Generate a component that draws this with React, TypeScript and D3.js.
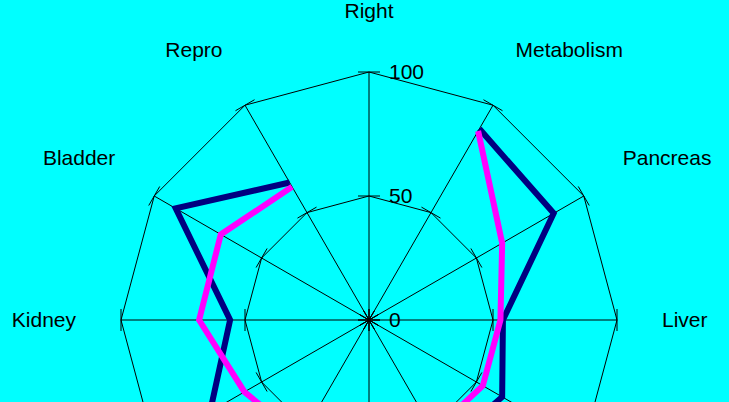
import React from 'react';
import * as d3 from 'd3';

// axes go clockwise from the top
const axes = ['Right', 'Metabolism', 'Pancreas', 'Liver', 'Heart', 'Lung', 'Left', 'Brain', 'Bone', 'Kidney', 'Bladder', 'Repro'];
const seriesNavy = [null, 89, 86, 54, 62, 60, 58, 66, 74, 56, 90, 64];
const seriesMagenta = [null, 88, 62, 53, 53, 52, 60, 55, 58, 68.5, 69, 62];
const ringValues = [0, 50, 100];
const gridRings = [50, 100];

const width = 729;
const height = 402;
const cx = 369;
const cy = 320;
const font = 'Liberation Sans, Arial, Helvetica, sans-serif';
const fontSize = 21;

const App = () => {
  const r = d3.scaleLinear().domain([0, 100]).range([0, 248]);
  const step = (2 * Math.PI) / axes.length;
  const a = (i) => i * step;
  const pt = (i, v) => [Math.sin(a(i)) * r(v), -Math.cos(a(i)) * r(v)];

  const ringPath = (v) => {
    const pts = axes.map((_, i) => pt(i, v));
    return d3.line()(pts.concat([pts[0]]));
  };

  const radial = d3.lineRadial()
    .angle((d) => a(d.i))
    .radius((d) => r(d.v))
    .defined((d) => d.v != null);

  const toPts = (arr) => arr.map((v, i) => ({ i, v }));

  const labelR = 293;

  const labels = axes.map((name, i) => {
    const s = Math.sin(a(i));
    const c = Math.cos(a(i));
    const x = s * labelR;
    let y = -c * labelR;
    const anchor = Math.abs(s) < 0.01 ? 'middle' : s > 0 ? 'start' : 'end';
    let dy = '0.35em';
    if (c > 0.01) { y -= 9; dy = '0em'; }
    else if (c < -0.01) { y += 9; dy = '0.75em'; }
    return { name, x, y, dy, anchor };
  }).filter((l) => l.y + cy < height - 10); // lower labels fall below the page

  return (
    <svg width={width} height={height} style={{ position: 'absolute', left: 0, top: 0, background: '#00ffff' }}>
      <rect x={0} y={0} width={width} height={height} fill="#00ffff" />
      <g transform={`translate(${cx},${cy})`}>
        {gridRings.map((v) => (
          <path key={v} d={ringPath(v)} fill="none" stroke="#000" strokeWidth={1} />
        ))}
        {axes.map((_, i) => {
          const [x, y] = pt(i, 100);
          return <line key={i} x1={0} y1={0} x2={x} y2={y} stroke="#000" strokeWidth={1} />;
        })}
        {axes.map((_, i) =>
          ringValues.map((v) => {
            const [x, y] = pt(i, v);
            const tx = Math.cos(a(i)) * 11;
            const ty = Math.sin(a(i)) * 11;
            return (
              <line key={i + '-' + v} x1={x - tx} y1={y - ty} x2={x + tx} y2={y + ty} stroke="#000" strokeWidth={1} />
            );
          })
        )}
        {ringValues.map((v) => (
          <text key={v} x={20} y={-r(v)} dy="0.35em" fontFamily={font} fontSize={fontSize} fill="#000">{v}</text>
        ))}
        <path d={radial(toPts(seriesNavy))} fill="none" stroke="#000080" strokeWidth={6} strokeLinejoin="miter" />
        <path d={radial(toPts(seriesMagenta))} fill="none" stroke="#ff00ff" strokeWidth={6} strokeLinejoin="miter" />
        {labels.map((l) => (
          <text key={l.name} x={l.x} y={l.y} dy={l.dy} textAnchor={l.anchor} fontFamily={font} fontSize={fontSize} fill="#000">{l.name}</text>
        ))}
      </g>
    </svg>
  );
};

export default App;
